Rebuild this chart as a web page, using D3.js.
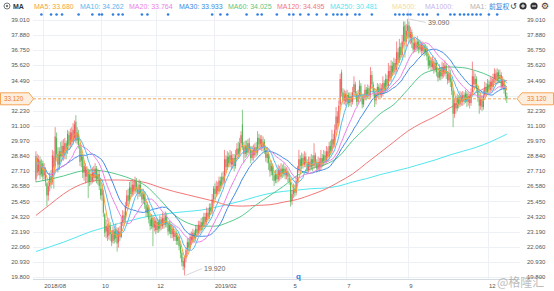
<!DOCTYPE html>
<html><head><meta charset="utf-8">
<script src="https://cdn.jsdelivr.net/npm/d3@7"></script>
<style>body{margin:0;background:#fff}svg{display:block;font-family:"Liberation Sans",Arial,sans-serif}</style>
</head><body><svg id="c" width="554" height="291"></svg>
<script>
// ---------- DATA ----------
const opens=[27.1,28.7,27.7,28.5,27.5,28.3,27.4,27.8,26.8,25.9,
26.6,27.3,26.9,28.8,28.1,30.2,29.0,28.2,29.2,28.8,
29.6,28.9,29.8,29.3,30.4,29.7,30.6,29.9,30.2,31.4,
30.0,30.5,29.6,28.5,28.8,27.6,28.0,27.3,27.7,26.9,
27.5,27.0,27.6,27.2,27.9,27.1,27.5,26.4,25.9,26.2,
24.5,23.2,23.5,22.9,23.6,23.0,22.5,23.2,22.7,23.3,
22.4,23.2,22.8,23.9,24.4,24.1,25.1,25.9,25.5,26.5,
26.0,26.7,26.2,26.9,26.4,26.0,26.7,26.1,25.6,26.0,
25.2,24.6,25.0,24.1,23.6,24.2,23.5,24.0,23.3,23.9,
23.4,24.1,23.6,24.2,23.7,24.3,23.8,23.2,23.7,23.0,
23.4,22.8,23.1,22.5,22.8,22.1,21.6,21.0,20.5,21.2,
21.8,22.4,22.0,22.8,22.5,23.1,22.7,23.4,23.1,23.7,
23.3,23.9,23.6,24.3,23.9,24.6,24.3,25.0,24.7,25.6,
26.4,26.0,26.6,26.2,27.0,26.6,27.3,27.0,28.6,28.0,
28.8,28.3,28.9,28.2,28.7,28.1,28.9,29.4,29.0,29.8,
31.2,29.5,29.0,29.6,29.1,29.8,29.3,28.7,29.3,28.9,
29.5,29.1,30.2,29.7,30.1,29.5,29.9,29.3,28.7,29.0,
28.3,27.7,28.1,27.4,27.0,27.5,27.1,27.8,27.3,27.9,
27.5,27.9,27.4,27.7,27.2,26.9,25.5,26.0,26.4,26.1,
27.0,27.8,28.6,28.1,28.7,28.2,28.8,28.3,27.8,28.4,
28.0,28.6,28.1,28.9,28.3,27.9,28.4,28.0,28.7,28.3,
28.9,28.5,29.2,28.8,29.6,29.2,30.1,29.7,30.8,31.8,
31.3,32.7,35.1,33.6,33.0,33.5,32.9,33.4,32.8,33.3,
32.9,33.6,34.2,33.5,32.9,33.4,34.1,33.3,32.7,33.2,
33.8,33.3,33.9,33.4,34.9,34.2,33.6,33.0,33.5,34.0,
33.4,33.9,33.5,34.3,33.8,34.6,34.1,35.2,34.7,35.6,
35.1,35.8,35.3,36.6,36.0,37.0,36.4,37.4,38.6,37.4,
38.2,38.6,37.7,38.1,37.3,36.8,37.3,36.9,37.4,36.8,
37.2,36.7,37.1,36.6,36.9,36.3,35.6,36.0,35.5,35.9,
35.3,35.8,35.1,34.7,35.3,34.8,35.5,35.0,35.6,35.0,
34.5,35.0,34.4,33.7,32.0,32.8,32.4,33.2,32.7,33.3,
32.9,33.4,33.0,33.5,32.9,33.3,32.8,33.6,34.8,34.2,
34.6,33.9,33.2,32.6,33.1,32.5,33.4,34.0,33.6,34.2,
33.8,34.4,34.0,34.6,35.0,34.5,35.1,34.6,34.9,34.0,
34.5,33.8,33.3];
const closes=[28.8,27.6,28.6,27.4,28.2,27.3,27.9,26.9,25.9,26.6,
27.3,26.8,28.9,28.0,30.3,29.0,28.2,29.2,28.8,29.6,
28.9,29.8,29.2,30.5,29.7,30.6,29.9,30.8,31.2,30.0,
30.6,29.6,28.4,28.9,27.6,28.1,27.3,27.8,26.9,27.5,
27.0,27.6,27.2,27.9,27.1,27.5,26.6,25.9,26.4,24.6,
23.1,23.6,22.8,23.7,23.0,22.4,23.3,22.6,23.4,22.3,
23.2,22.8,23.9,24.4,24.0,25.1,25.9,25.5,26.5,26.0,
26.7,26.2,27.0,26.4,26.0,26.7,26.1,25.6,26.0,25.2,
24.6,25.0,24.1,23.6,24.2,23.5,24.0,23.3,23.9,23.4,
24.1,23.6,24.2,23.7,24.4,23.8,23.2,23.7,23.0,23.4,
22.8,23.1,22.5,22.8,22.1,21.6,20.9,20.6,21.2,21.8,
22.4,22.0,22.8,22.5,23.1,22.7,23.4,23.1,23.7,23.3,
23.9,23.6,24.3,23.9,24.6,24.3,25.0,24.7,25.6,26.4,
26.0,26.6,26.2,27.0,26.6,27.3,27.0,28.6,28.0,28.8,
28.3,28.9,28.2,28.7,28.1,28.9,29.4,29.0,29.8,30.4,
29.5,29.0,29.6,29.1,29.8,29.3,28.7,29.3,28.9,29.5,
29.1,30.2,29.7,30.1,29.5,29.9,29.3,28.7,29.0,28.3,
27.7,28.1,27.4,27.0,27.5,27.1,27.8,27.3,27.9,27.5,
27.9,27.4,27.7,27.3,27.0,25.4,26.0,26.5,26.1,27.0,
27.8,28.6,28.1,28.7,28.2,28.8,28.3,27.8,28.4,28.0,
28.6,28.1,28.9,28.3,27.9,28.4,28.0,28.7,28.3,28.9,
28.5,29.2,28.8,29.6,29.2,30.1,29.7,30.8,31.8,31.3,
32.6,34.6,33.6,33.0,33.5,32.9,33.4,32.8,33.3,32.9,
33.6,34.2,33.5,32.9,33.4,34.1,33.3,32.7,33.2,33.8,
33.3,33.9,33.4,34.9,34.2,33.6,33.0,33.5,34.0,33.4,
33.9,33.5,34.3,33.8,34.6,34.1,35.2,34.7,35.6,35.1,
35.8,35.3,36.6,36.0,37.0,36.4,37.4,38.5,37.4,38.2,
38.6,37.7,38.1,37.3,36.8,37.3,36.9,37.4,36.8,37.2,
36.7,37.1,36.6,36.9,36.3,35.6,36.0,35.5,35.9,35.3,
35.8,35.1,34.7,35.3,34.8,35.5,35.0,35.6,35.0,34.5,
35.0,34.4,33.7,32.0,32.8,32.4,33.2,32.7,33.3,32.9,
33.4,33.0,33.5,32.9,33.3,32.8,33.6,34.8,34.2,34.6,
33.9,33.2,32.6,33.1,32.5,33.4,34.0,33.6,34.2,33.8,
34.4,34.0,34.6,35.0,34.5,35.1,34.6,34.9,34.0,34.5,
33.8,33.3,33.12];
const highs=[29.2,29.0,28.9,28.8,28.6,28.5,28.3,28.0,26.9,26.9,
27.6,27.8,29.3,29.2,31.0,30.6,29.5,29.5,29.9,30.0,
30.1,30.2,30.0,30.8,30.7,30.9,31.0,31.3,31.5,31.9,
31.0,30.8,29.8,29.4,29.0,28.5,28.3,28.1,27.9,27.8,
27.8,28.0,28.1,28.3,28.1,27.9,27.8,27.2,26.8,26.3,
24.6,24.1,23.8,24.2,23.9,23.3,23.6,23.4,23.8,23.5,
23.5,23.6,24.3,24.8,24.7,25.4,26.3,26.4,26.9,27.0,
27.1,27.0,27.3,27.2,26.8,27.1,27.0,26.4,26.4,26.2,
25.5,25.4,25.2,24.4,24.5,24.4,24.3,24.2,24.2,24.1,
24.4,24.3,24.6,24.5,24.7,24.6,24.0,24.0,23.9,23.7,
23.6,23.4,23.3,23.1,22.9,22.3,21.8,21.3,21.4,22.0,
22.7,22.7,23.1,23.2,23.4,23.3,23.7,23.7,24.0,24.0,
24.2,24.3,24.6,24.6,25.0,24.9,25.3,25.3,26.0,26.6,
26.8,27.0,26.9,27.3,27.3,27.6,27.7,29.3,28.9,29.2,
29.1,29.3,29.2,29.0,29.0,29.3,29.8,29.9,30.2,30.7,
32.3,29.9,30.0,30.0,30.1,30.2,29.6,29.6,29.7,29.8,
29.9,30.7,30.5,30.4,30.4,30.3,30.1,29.5,29.4,29.1,
28.5,28.5,28.3,27.7,27.8,27.9,28.2,28.1,28.3,28.2,
28.3,28.1,28.0,27.9,27.6,27.0,26.3,26.8,26.7,27.3,
28.1,29.3,28.9,29.1,29.0,29.2,29.1,28.6,28.8,28.8,
29.0,28.9,29.8,29.1,28.6,28.8,28.7,29.3,29.0,29.3,
29.2,29.6,29.5,29.9,30.0,30.8,30.5,31.2,32.5,32.2,
33.0,35.0,35.3,33.9,33.8,33.7,33.8,33.6,33.6,33.6,
34.0,34.8,34.4,33.7,33.8,34.5,34.3,33.5,33.5,34.2,
34.0,34.2,34.1,35.5,35.2,34.4,33.9,33.8,34.3,34.2,
34.3,34.2,34.8,34.5,35.0,34.9,35.8,35.6,36.0,35.9,
36.2,36.1,37.4,36.9,37.6,37.3,37.9,38.9,38.9,38.7,
39.09,38.9,38.5,38.3,37.6,37.7,37.6,37.8,37.6,37.5,
37.4,37.4,37.3,37.2,37.1,36.5,36.3,36.2,36.3,36.1,
36.2,36.0,35.4,35.7,35.5,35.9,35.8,36.0,35.8,35.2,
35.6,35.3,34.6,33.8,33.2,33.3,33.5,33.4,33.7,33.6,
33.7,33.6,33.8,33.7,33.6,33.5,33.9,35.9,35.2,35.0,
34.8,34.1,33.5,33.4,33.3,33.8,34.4,34.3,34.6,34.5,
34.8,34.7,35.0,35.4,35.3,35.4,35.3,35.3,35.1,34.8,
34.6,34.0,33.6];
const lows=[26.9,27.3,27.4,27.1,27.3,27.0,27.1,26.6,25.1,25.5,
26.2,26.4,26.7,26.4,27.9,28.7,27.6,27.8,28.4,28.5,
28.5,28.6,28.6,29.0,29.3,29.4,29.5,29.7,30.0,29.8,
29.7,29.4,28.1,28.0,27.2,27.0,26.8,26.9,25.7,26.6,
26.7,26.8,26.9,27.0,26.8,26.7,26.3,25.6,25.5,24.3,
22.8,22.7,22.5,22.6,22.5,22.1,22.3,22.3,22.4,21.7,
22.0,22.5,22.7,23.6,23.6,23.9,24.9,25.2,25.3,25.7,
25.8,25.9,26.0,26.1,25.6,25.8,25.8,25.3,25.3,24.9,
24.3,24.3,23.8,23.3,23.4,22.1,23.2,23.0,23.1,23.1,
23.2,23.3,23.4,23.4,23.5,23.5,22.9,23.0,22.7,22.7,
22.5,22.5,22.2,22.2,21.8,21.2,20.6,20.3,19.92,20.9,
21.5,21.7,21.8,22.2,22.3,22.4,22.5,22.8,22.9,23.0,
23.1,23.3,23.4,23.6,23.7,24.0,24.1,24.4,24.5,25.3,
25.6,25.8,25.9,26.0,26.2,26.4,26.7,26.8,27.6,27.8,
28.0,28.0,27.8,27.9,27.7,27.9,28.6,28.7,28.8,29.5,
29.3,28.3,28.7,28.8,28.9,29.0,28.3,28.5,28.5,28.7,
28.8,28.9,29.4,29.3,29.2,29.2,29.0,28.4,28.3,27.8,
27.3,27.4,27.0,26.6,26.8,26.8,26.9,27.0,27.1,27.2,
27.3,27.1,27.1,26.9,26.7,25.06,25.2,25.7,25.8,25.9,
26.8,27.6,27.8,27.9,27.9,28.0,28.0,27.5,27.6,27.7,
27.8,27.7,27.9,28.0,27.6,27.7,27.7,27.8,28.0,28.1,
28.2,28.3,28.4,28.6,28.9,29.0,29.4,29.5,30.5,30.9,
31.1,32.5,33.3,32.7,32.7,32.6,32.7,32.5,32.6,32.5,
32.7,33.3,33.2,32.6,32.7,33.1,32.9,32.4,32.5,33.0,
33.0,33.1,33.1,33.2,33.9,33.3,32.5,32.7,33.2,33.1,
33.2,33.2,33.3,33.5,33.6,33.8,33.9,34.4,34.4,34.8,
34.9,35.0,35.1,35.6,35.8,36.0,36.2,37.1,36.2,37.0,
37.6,37.3,37.2,36.9,36.5,36.6,36.6,36.7,36.5,36.6,
36.4,36.5,36.3,36.4,36.0,35.3,35.4,35.2,35.3,35.0,
35.1,34.8,34.4,34.5,34.5,34.6,34.7,34.8,34.6,34.2,
34.3,34.0,33.4,31.0,31.7,32.0,32.2,32.4,32.5,32.6,
32.6,32.7,32.8,32.5,32.6,32.4,32.6,33.5,33.9,33.9,
33.6,32.9,32.0,32.3,32.2,32.3,33.2,33.3,33.4,33.5,
33.6,33.7,33.8,34.3,34.2,34.3,34.3,34.4,33.8,33.9,
33.5,33.0,32.8];
// long moving averages (they need history before the visible window)
const maSampleIdx=[0,10,20,30,40,50,60,70,80,90,100,110,120,130,140,150,160,170,180,190,200,210,220,230,240,250,260,270,280,290,300,310,320,330,342];
const ma60Vals=[26.9,27.1,27.35,27.65,27.8,27.7,27.45,27.1,26.6,25.6,24.5,23.85,23.6,23.6,23.9,24.4,25.2,25.9,26.6,27.4,27.9,28.2,28.8,30.0,31.0,32.0,32.7,33.8,34.9,35.3,35.5,35.45,35.2,34.8,34.03];
const ma120Vals=[24.4,25.2,26.0,26.6,26.95,27.05,27.05,27.0,26.85,26.5,26.2,25.95,25.7,25.45,25.15,25.1,25.15,25.2,25.4,25.6,25.95,26.35,26.9,27.5,28.3,29.1,29.9,30.7,31.3,31.8,32.4,33.0,33.6,34.1,34.495];
const ma250Vals=[21.7,22.05,22.4,22.8,23.2,23.5,23.8,24.05,24.3,24.45,24.6,24.7,24.8,25.0,25.25,25.5,25.8,26.05,26.2,26.3,26.4,26.45,26.6,26.9,27.15,27.45,27.7,27.95,28.25,28.55,28.9,29.2,29.5,29.9,30.48];
const xTickIdx=[5,47,87,129,186,225,270,328];
const xTickLabels=["2018/08","10","12","2019/02","5","7","9","12"];
const yTicks=[19.800,20.930,22.060,23.190,24.320,25.450,26.580,27.710,28.840,29.970,31.100,32.230,33.360,34.490,35.620,36.750,37.880,39.010];
const legendNames=["MA5","MA10","MA20","MA30","MA60","MA120","MA250","MA500","MA1000","MA1"];
const legendValues=["33.680","34.262","33.764","33.933","34.025","34.495","30.481","","",""];
const eventIdx=[4,11,15,19,31,41,46,48,56,60,63,77,81,96,128,134,139,153,161,164,175,184,187,192,198,204,211,216,219,222,226,232,235,244,261,264,267,270,272,278,281,284,292,301,304,308,311,314,317,320,323,329,335];
const lastPrice=33.12, highLabel="39.090", lowLabel="19.920", highIdx=270, lowIdx=108;

// ---------- LAYOUT ----------
const svg=d3.select("#c");
const PL=33, PR=520, AXY=279.5;
const x=d3.scaleLinear().domain([0,342]).range([35.9,506.8]);
const y=d3.scaleLinear().domain([19.8,39.01]).range([277,20]);
const maCol={MA5:"#f7a23b",MA10:"#52b9f0",MA20:"#ec7fe6",MA30:"#3f88e6",MA60:"#56c98a",MA120:"#f27878",MA250:"#54e6f0",MA500:"#f0dca8",MA1000:"#cbb3ea",MA1:"#b5b5b5"};
const legX=[34,80,129,179,228,277,330,392,425,470];
const py=y(lastPrice);

// grid
const g=svg.append("g");
g.selectAll(".hg").data(yTicks).join("line").attr("x1",PL).attr("x2",PR)
 .attr("y1",d=>Math.round(y(d))+0.5).attr("y2",d=>Math.round(y(d))+0.5).attr("stroke","#edf1f5");
g.selectAll(".vg").data(xTickIdx).join("line").attr("y1",10).attr("y2",AXY)
 .attr("x1",d=>Math.round(x(d))+0.5).attr("x2",d=>Math.round(x(d))+0.5).attr("stroke","#edf1f5");
g.append("line").attr("x1",PL).attr("x2",PR).attr("y1",AXY).attr("y2",AXY).attr("stroke","#d5dbe2");

// axes text (the tick hidden under the last-price tag is not shown, as in the reference)
const axFont=6;
const visTicks=yTicks.filter(d=>Math.abs(y(d)-py)>7);
svg.selectAll(".yl").data(visTicks).join("text").attr("x",29.5).attr("y",d=>y(d)+2.1)
 .attr("text-anchor","end").attr("font-size",axFont).attr("fill","#555").text(d=>d3.format(".3f")(d));
svg.selectAll(".yr").data(visTicks).join("text").attr("x",527).attr("y",d=>y(d)+2.1)
 .attr("font-size",axFont).attr("fill","#555").text(d=>d3.format(".3f")(d));
svg.selectAll(".xl").data(xTickIdx).join("text").attr("x",d=>x(d)+1.5).attr("y",288.2)
 .attr("font-size",axFont).attr("fill","#555").text((d,i)=>xTickLabels[i]);

// long MAs
const idxLine=d3.line().x(d=>x(d[0])).y(d=>y(d[1])).curve(d3.curveMonotoneX);
[["MA250",ma250Vals],["MA120",ma120Vals],["MA60",ma60Vals]].forEach(([n,v])=>{
  svg.append("path").attr("d",idxLine(maSampleIdx.map((k,i)=>[k,v[i]])))
   .attr("fill","none").attr("stroke",maCol[n]).attr("stroke-width",1);
});

// candles
const up="#ef5b5e", dn="#56b556";
const cg=svg.append("g");
closes.forEach((c,i)=>{
  const o=opens[i], col=c>=o?up:dn, cx=x(i);
  cg.append("line").attr("x1",cx).attr("x2",cx).attr("y1",y(highs[i])).attr("y2",y(lows[i]))
    .attr("stroke",col).attr("stroke-width",0.7);
  const top=y(Math.max(o,c)), bot=y(Math.min(o,c));
  cg.append("rect").attr("x",cx-0.55).attr("width",1.1).attr("y",top).attr("height",Math.max(0.8,bot-top)).attr("fill",col);
});

// short MAs computed from closes
function ma(n){return closes.map((c,i)=>d3.mean(closes.slice(Math.max(0,i-n+1),i+1)));}
const ln=d3.line().x((d,i)=>x(i)).y(d=>y(d));
[["MA30",30],["MA20",20],["MA10",10],["MA5",5]].forEach(([n,k])=>{
  svg.append("path").attr("d",ln(ma(k))).attr("fill","none").attr("stroke",maCol[n]).attr("stroke-width",1);
});

// last price line + tags
svg.append("line").attr("x1",PL).attr("x2",517).attr("y1",py).attr("y2",py)
 .attr("stroke","#f5a55a").attr("stroke-dasharray","3,2");
svg.append("path").attr("d",`M517,${py}L522,${py-6}H553.5V${py+6}H522Z`).attr("fill","#fdeedd").attr("stroke","#f5a55a");
svg.append("text").attr("x",527).attr("y",py+2.2).attr("font-size",6.3).attr("fill","#ee7a2c").text(lastPrice.toFixed(3));
svg.append("path").attr("d",`M0.5,${py-6}H29L33.5,${py}L29,${py+6}H0.5Z`).attr("fill","#fdeedd").attr("stroke","#f5a55a");
svg.append("text").attr("x",4).attr("y",py+2.2).attr("font-size",6.3).attr("fill","#ee7a2c").text(lastPrice.toFixed(3));

// high / low annotations
const hx=x(highIdx), hy=y(39.09);
svg.append("line").attr("x1",hx+1).attr("y1",hy).attr("x2",426).attr("y2",22.5).attr("stroke","#c8c8c8").attr("stroke-width",0.7);
svg.append("text").attr("x",428).attr("y",25).attr("font-size",7).attr("fill","#666").text(highLabel);
const lx=x(lowIdx), ly=y(19.92);
svg.append("line").attr("x1",lx+1).attr("y1",ly).attr("x2",202).attr("y2",268.5).attr("stroke","#c8c8c8").attr("stroke-width",0.7);
svg.append("text").attr("x",204).attr("y",271).attr("font-size",7).attr("fill","#666").text(lowLabel);

// event dots
svg.selectAll(".ev").data(eventIdx).join("circle").attr("cx",d=>x(d)).attr("cy",14.5).attr("r",1.3).attr("fill","#2f7ee0");
svg.append("text").attr("x",296).attr("y",279).attr("font-size",8).attr("font-weight","bold").attr("fill","#2f7ee0").text("q");

// legend
svg.append("circle").attr("cx",7).attr("cy",6).attr("r",3).attr("fill","none").attr("stroke","#777").attr("stroke-width",1);
svg.append("circle").attr("cx",7).attr("cy",6).attr("r",1.2).attr("fill","#777");
svg.append("text").attr("x",13).attr("y",8.5).attr("font-size",7).attr("font-weight","bold").attr("fill","#333").text("MA");
svg.selectAll(".lg").data(legendNames).join("text").attr("x",(d,i)=>legX[i]).attr("y",8.5)
 .attr("font-size",7).attr("fill",d=>maCol[d]).text((d,i)=>legendValues[i]?d+": "+legendValues[i]:d+":");
svg.append("text").attr("x",489).attr("y",8.8).attr("font-size",6.8).attr("fill","#3a7fd8")
 .attr("font-family","Noto Sans CJK SC").text("前复权");
// toolbar icons
svg.append("text").attr("x",510).attr("y",9).attr("font-size",8).attr("fill","#333").attr("font-family","DejaVu Sans").text("↺");
[[523,"+"],[534,"−"]].forEach(([cx,s])=>{
  svg.append("circle").attr("cx",cx).attr("cy",6).attr("r",3.6).attr("fill","#333");
  svg.append("line").attr("x1",cx-2).attr("x2",cx+2).attr("y1",6).attr("y2",6).attr("stroke","#fff").attr("stroke-width",1);
  if(s==="+") svg.append("line").attr("x1",cx).attr("x2",cx).attr("y1",4).attr("y2",8).attr("stroke","#fff").attr("stroke-width",1);
});
svg.append("text").attr("x",541).attr("y",9.3).attr("font-size",9).attr("fill","#333").attr("font-family","DejaVu Sans").text("⚙");

// watermark
svg.append("text").attr("x",497).attr("y",287).attr("font-size",12).attr("fill","#999").attr("opacity",0.65)
 .attr("font-family","Noto Sans CJK SC").text("@格隆汇");
</script></body></html>
